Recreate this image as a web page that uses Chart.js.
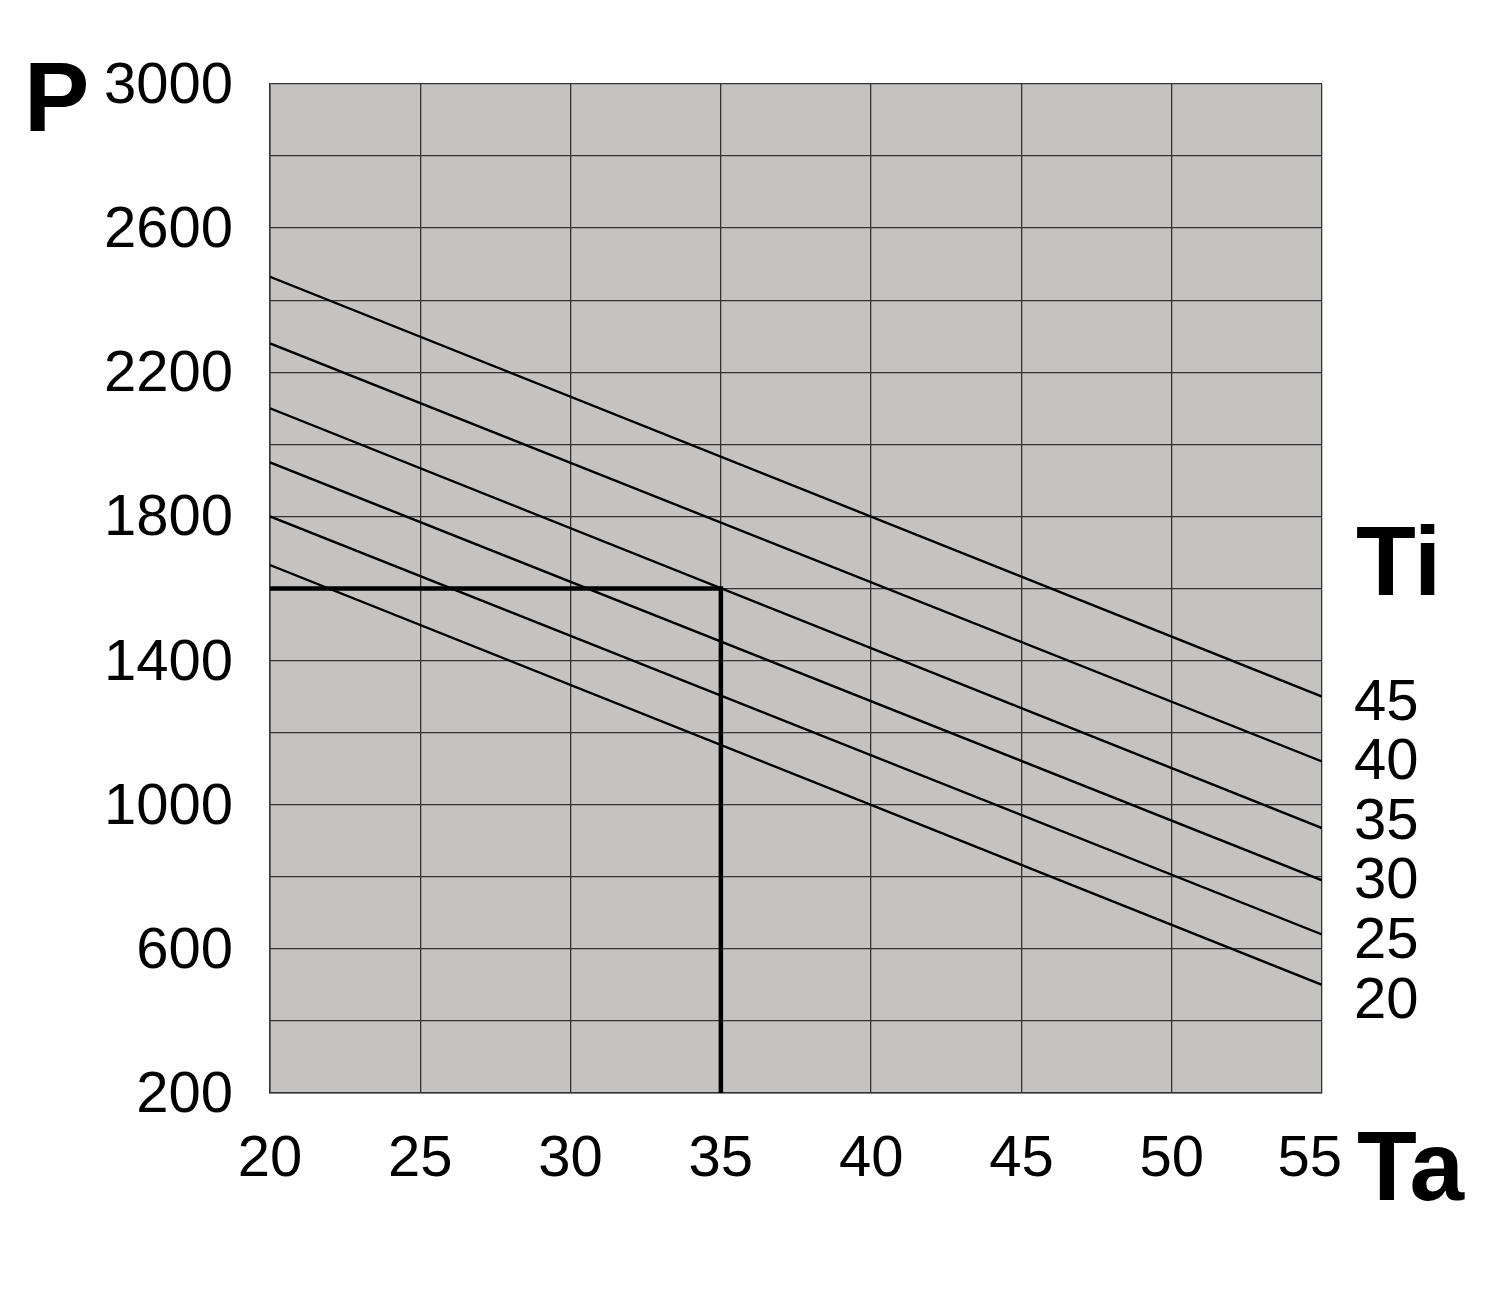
<!doctype html>
<html>

<head>
    <title>P x Ta</title>
    <script src="https://cdn.jsdelivr.net/npm/chart.js"></script>
    <style>
        html, body { margin: 0; padding: 0; background: #ffffff; }
        canvas { display: block; }
    </style>
</head>

<body>
    <canvas id="grafico" width="1500" height="1296"></canvas>

    <script>
        // valores
        var tiLabels = ['45', '40', '35', '30', '25', '20'];
        var taInicioFim = [20, 55];
        var pEmTa20 = [2465, 2280, 2100, 1950, 1800, 1665];
        var pEmTa55 = [1300, 1120, 935, 790, 640, 500];
        var exemploTa = [20, 35, 35];
        var exemploP = [1600, 1600, 200];
        var taTicks = [20, 25, 30, 35, 40, 45, 50, 55];
        var pMin = 200, pMax = 3000, pPasso = 200, pPassoRotulo = 400;

        var fonte = '"Liberation Sans", Arial, sans-serif';
        var tamTick = 58;
        var padX = 32;

        var datasets = tiLabels.map(function (ti, i) {
            return {
                label: 'Ti ' + ti,
                data: [
                    { x: taInicioFim[0], y: pEmTa20[i] },
                    { x: taInicioFim[1], y: pEmTa55[i] }
                ],
                borderColor: '#000000',
                borderWidth: 2.4,
                pointRadius: 0,
                showLine: true
            };
        });

        datasets.push({
            label: 'exemplo',
            data: exemploTa.map(function (ta, i) { return { x: ta, y: exemploP[i] }; }),
            borderColor: '#000000',
            borderWidth: 4.5,
            pointRadius: 0,
            showLine: true,
            clip: 6
        });

        var fundoPlot = {
            id: 'fundoPlot',
            beforeDraw: function (chart) {
                var a = chart.chartArea;
                var ctx = chart.ctx;
                ctx.save();
                ctx.fillStyle = '#c5c2c2';
                ctx.fillRect(a.left, a.top, a.right - a.left, a.bottom - a.top);
                ctx.restore();
            }
        };

        var textos = {
            id: 'textos',
            afterDraw: function (chart) {
                var ctx = chart.ctx;
                var a = chart.chartArea;
                var y = chart.scales.y;
                var x = chart.scales.x;
                ctx.save();
                ctx.fillStyle = '#000000';
                ctx.textAlign = 'left';
                ctx.textBaseline = 'alphabetic';

                ctx.font = 'bold 98px ' + fonte;
                ctx.fillText('P', 24, 131);
                ctx.fillText('Ti', a.right + 34, 595);
                ctx.fillText('Ta', a.right + 35, 1200);

                // rotulos Ti empilhados a partir do fim da primeira linha
                ctx.font = tamTick + 'px ' + fonte;
                ctx.textBaseline = 'middle';
                var y0 = y.getPixelForValue(pEmTa55[0]) + 7;
                tiLabels.forEach(function (ti, i) {
                    ctx.fillText(ti, a.right + 32, y0 + i * 59.6);
                });

                // ultimo rotulo do eixo x, encostado a esquerda do "Ta"
                var ultimo = taTicks[taTicks.length - 1];
                ctx.textAlign = 'right';
                ctx.fillText(String(ultimo), x.getPixelForValue(ultimo) + 20, x.top + padX + tamTick * 0.6);
                ctx.restore();
            }
        };

        var grafico = new Chart(document.getElementById('grafico').getContext('2d'), {
            type: 'scatter',
            data: { datasets: datasets },
            plugins: [fundoPlot, textos],
            options: {
                responsive: false,
                animation: false,
                layout: {
                    padding: { top: 84, right: 178, bottom: 0, left: 0 }
                },
                plugins: {
                    legend: { display: false },
                    tooltip: { enabled: false }
                },
                scales: {
                    x: {
                        type: 'linear',
                        min: taInicioFim[0],
                        max: taInicioFim[1],
                        afterBuildTicks: function (s) {
                            s.ticks = taTicks.map(function (v) { return { value: v }; });
                        },
                        afterFit: function (s) { s.height = 203; },
                        grid: { color: '#333333', lineWidth: 1.3, drawTicks: false },
                        border: { display: true, color: '#333333', width: 1.5 },
                        ticks: {
                            color: '#000000',
                            padding: padX,
                            maxRotation: 0,
                            autoSkip: false,
                            font: { family: fonte, size: tamTick, lineHeight: 1.2 },
                            callback: function (v) {
                                return v === taTicks[taTicks.length - 1] ? '' : String(v);
                            }
                        }
                    },
                    y: {
                        type: 'linear',
                        min: pMin,
                        max: pMax,
                        afterFit: function (s) { s.width = 270; },
                        grid: { color: '#333333', lineWidth: 1.3, drawTicks: false },
                        border: { display: true, color: '#333333', width: 1.5 },
                        ticks: {
                            stepSize: pPasso,
                            color: '#000000',
                            padding: 37,
                            labelOffset: 3,
                            autoSkip: false,
                            font: { family: fonte, size: tamTick, lineHeight: 1.2 },
                            callback: function (v) {
                                return (v - pMin) % pPassoRotulo === 0 ? String(v) : '';
                            }
                        }
                    }
                }
            }
        });
    </script>
</body>

</html>
